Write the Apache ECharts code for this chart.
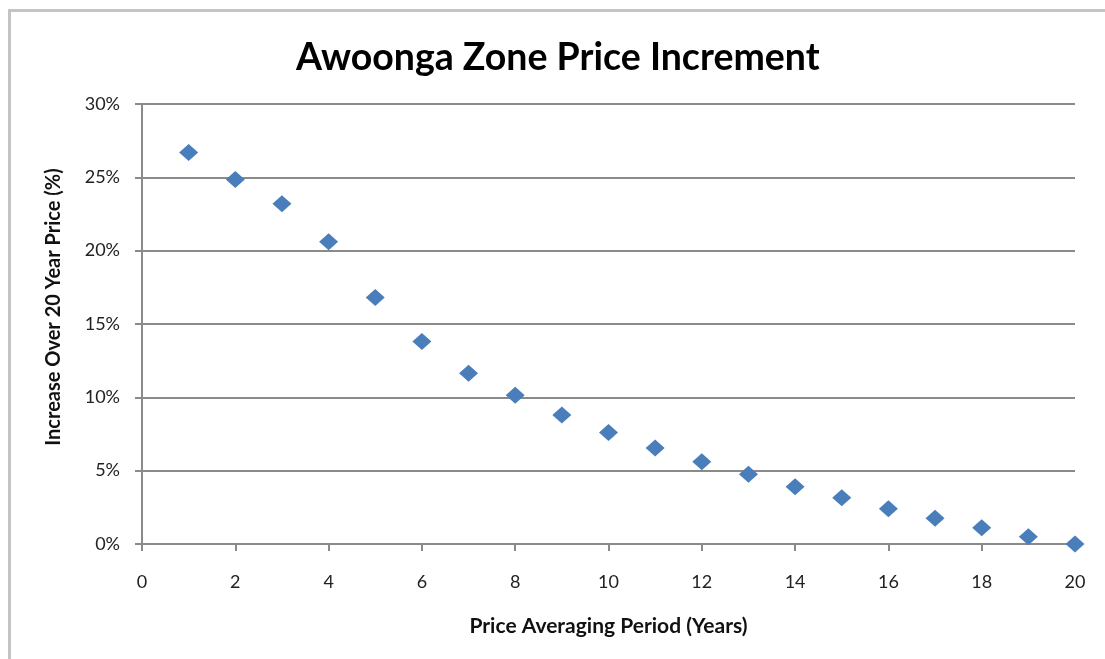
<!DOCTYPE html>
<html>
<head>
<meta charset="utf-8">
<script src="https://cdn.jsdelivr.net/npm/echarts@6/dist/echarts.min.js"></script>
<style>
  html, body { margin: 0; padding: 0; background: #fff; }
  #chart { width: 1105px; height: 659px; }
</style>
</head>
<body>
<div id="chart"></div>
<script>
// Averaging period in years
const periods = [1, 2, 3, 4, 5, 6, 7, 8, 9, 10, 11, 12, 13, 14, 15, 16, 17, 18, 19, 20];
// Price increase over the 20-year price, in percent
const increments = [26.7, 24.85, 23.2, 20.6, 16.8, 13.8, 11.65, 10.15, 8.8, 7.6, 6.55, 5.6, 4.75, 3.9, 3.15, 2.4, 1.75, 1.1, 0.5, 0];

const titleText = 'Awoonga Zone Price Increment';
const xAxisTitle = 'Price Averaging Period (Years)';
const yAxisTitle = 'Increase Over 20 Year Price (%)';

const points = periods.map((p, i) => [p, increments[i]]);
const font = 'Lato, "Open Sans", sans-serif';

const chart = echarts.init(document.getElementById('chart'), null, { renderer: 'canvas' });
chart.setOption({
  animation: false,
  backgroundColor: '#ffffff',
  title: {
    text: titleText,
    left: 291,
    top: 34,
    textStyle: { fontFamily: font, fontSize: 37.5, fontWeight: 'bold', color: '#000' }
  },
  graphic: [{
    type: 'rect',
    shape: { x: 9.5, y: 10.5, width: 1300, height: 900 },
    style: { fill: 'none', stroke: '#c4c4c4', lineWidth: 3 },
    silent: true
  }],
  grid: { left: 142, right: 30, top: 104, bottom: 115 },
  xAxis: {
    type: 'value',
    min: 0, max: 20, interval: 2,
    name: xAxisTitle,
    nameLocation: 'middle',
    nameGap: 72,
    nameTextStyle: { fontFamily: font, fontSize: 21, fontWeight: 'bold', color: '#111' },
    axisLine: { show: true, lineStyle: { color: '#8a8a8a', width: 2 } },
    axisTick: { show: true, length: 7, inside: false, lineStyle: { color: '#8a8a8a', width: 2 } },
    axisLabel: { fontFamily: font, fontSize: 18, color: '#222', margin: 29 },
    splitLine: { show: false }
  },
  yAxis: {
    type: 'value',
    min: 0, max: 30, interval: 5,
    name: yAxisTitle,
    nameLocation: 'middle',
    nameGap: 78,
    nameRotate: 90,
    nameTextStyle: { fontFamily: font, fontSize: 20, fontWeight: 'bold', color: '#111', padding: [0, 0, 0, 34] },
    axisLine: { show: true, lineStyle: { color: '#8a8a8a', width: 2 } },
    axisTick: { show: true, length: 7, inside: false, lineStyle: { color: '#8a8a8a', width: 2 } },
    axisLabel: { fontFamily: font, fontSize: 18, color: '#222', margin: 22, formatter: '{value}%' },
    splitLine: { show: true, lineStyle: { color: '#8a8a8a', width: 2 } }
  },
  series: [{
    type: 'scatter',
    data: points,
    symbol: 'diamond',
    symbolSize: [19, 17],
    itemStyle: { color: '#4a7ebb', opacity: 1 }
  }]
});
</script>
</body>
</html>
